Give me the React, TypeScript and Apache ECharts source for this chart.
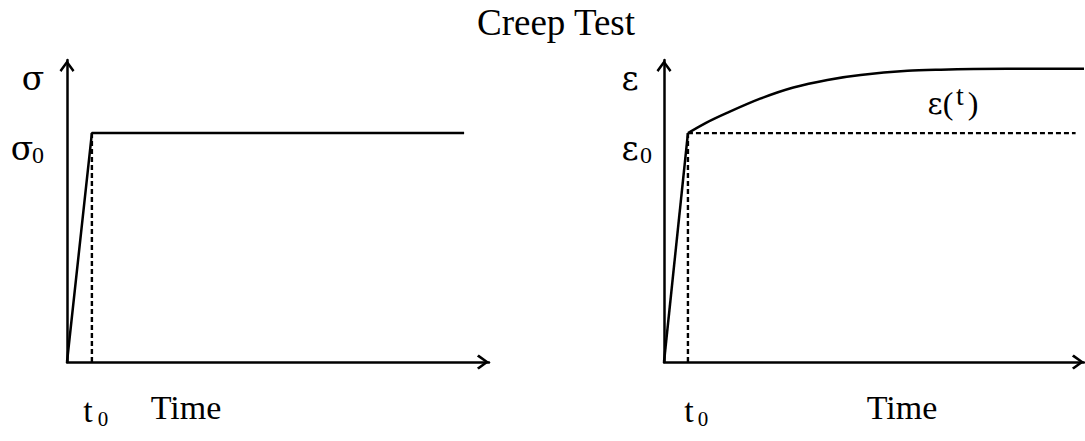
import React, { useEffect, useRef } from "react";
import * as echarts from "echarts";

// ---- data (time and value axes both run 0..100) ----
const stressTimes = [0, 5.9, 94.1];
const stressValues = [0, 75.8, 75.8];
const t0Left = 5.9;
const sigma0 = 75.8;

const rampTimes = [0, 5.7];
const rampStrain = [0, 75.8];
const creepTimes = [5.7, 10.0, 15.0, 22.9, 30.8, 38.9, 46.8, 58.0, 65.9, 73.7, 89.7, 100];
const creepStrain = [75.8, 79.2, 82.5, 87.2, 90.9, 93.4, 95.0, 96.4, 96.8, 97.0, 97.1, 97.1];
const t0Right = 5.7;
const eps0 = 75.8;
const eps0End = 98;

const titleText = "Creep Test";
const timeLabel = "Time";

const FONT = "'Liberation Serif', 'Times New Roman', serif";
const GREEK = "'DejaVu Serif', 'Liberation Serif', serif";
const ARROW = "path://M8,0 L16,11 L14,13 L8,4.5 L2,13 L0,11 Z";

function zip(xs: number[], ys: number[]) {
  return xs.map((x, i) => [x, ys[i]]);
}

function txt(text: string, x: number, y: number, size: number, family = FONT) {
  return {
    type: "text",
    x,
    y,
    style: {
      text,
      font: `${size}px ${family}`,
      fill: "#000",
      textAlign: "center",
      textVerticalAlign: "middle",
    },
  };
}

export default function App() {
  const ref = useRef<HTMLDivElement>(null);
  useEffect(() => {
    if (!ref.current) return;
    const chart = echarts.init(ref.current, null, { renderer: "svg" });
    const axisCommon = {
      type: "value",
      min: 0,
      max: 100,
      axisTick: { show: false },
      axisLabel: { show: false },
      splitLine: { show: false },
      axisLine: {
        show: true,
        symbol: ["none", ARROW],
        symbolSize: [15, 13],
        symbolOffset: [0, -6],
        lineStyle: { color: "#000", width: 2.5 },
      },
    };
    const solid = { color: "#000", width: 2.5 };
    const dashed = { color: "#000", width: 2.4, type: [5, 3] };
    const lineSeries = (idx: number, data: number[][], ls: any, smooth: any = false) => ({
      type: "line",
      xAxisIndex: idx,
      yAxisIndex: idx,
      data,
      smooth,
      showSymbol: false,
      symbol: "none",
      lineStyle: ls,
      clip: false,
    });
    chart.setOption({
      animation: false,
      textStyle: { fontFamily: FONT },
      grid: [
        { left: 67, top: 60, width: 422, bottom: 79 },
        { left: 664, top: 60, width: 420, bottom: 79 },
      ],
      xAxis: [
        { ...axisCommon, gridIndex: 0 },
        { ...axisCommon, gridIndex: 1 },
      ],
      yAxis: [
        { ...axisCommon, gridIndex: 0 },
        { ...axisCommon, gridIndex: 1 },
      ],
      series: [
        lineSeries(0, zip(stressTimes, stressValues), solid),
        lineSeries(0, [[t0Left, 0], [t0Left, sigma0]], dashed),
        lineSeries(1, zip(rampTimes, rampStrain), solid),
        lineSeries(1, zip(creepTimes, creepStrain), solid, 0.3),
        lineSeries(1, [[t0Right, eps0], [eps0End, eps0]], dashed),
        lineSeries(1, [[t0Right, 0], [t0Right, eps0]], dashed),
      ],
      graphic: [
        txt(titleText, 556, 22, 37),
        txt("σ", 33, 78, 33, GREEK),
        txt("σ", 22, 148, 33, GREEK),
        txt("0", 38, 155, 24),
        txt("t", 88, 410, 34),
        txt("0", 103, 419, 21),
        txt(timeLabel, 186, 407, 34),
        txt("ε", 630, 78, 33, GREEK),
        txt("ε", 630, 148, 33, GREEK),
        txt("0", 646, 155, 24),
        txt("t", 689, 410, 34),
        txt("0", 703, 419, 21),
        txt(timeLabel, 902, 407, 34),
        txt("ε", 935, 104, 29, GREEK),
        txt("(", 948, 103, 32),
        txt("t", 960, 95, 28),
        txt(")", 973, 103, 32),
      ],
    });
    return () => chart.dispose();
  }, []);
  return (
    <div
      ref={ref}
      style={{ position: "fixed", left: 0, top: 0, width: 1085, height: 441, background: "#fff" }}
    />
  );
}
